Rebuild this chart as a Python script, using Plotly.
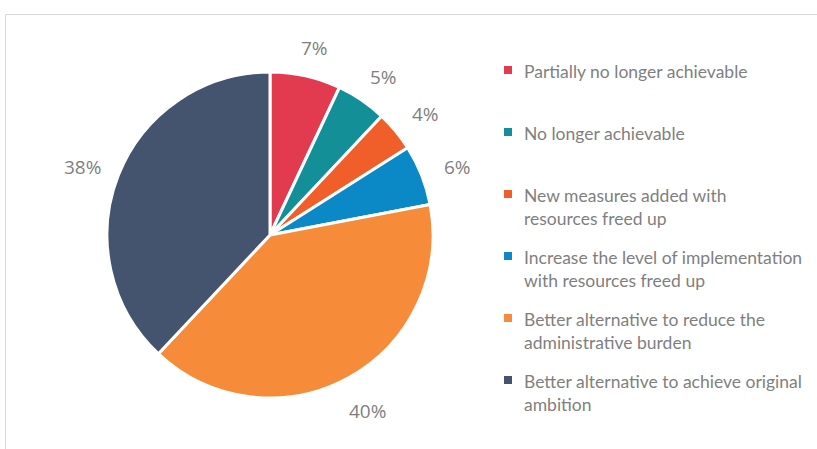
import math
import plotly.graph_objects as go

labels = [
    "Partially no longer achievable",
    "No longer achievable",
    "New measures added with<br>resources freed up",
    "Increase the level of implementation<br>with resources freed up",
    "Better alternative to reduce the<br>administrative burden",
    "Better alternative to achieve original<br>ambition",
]
values = [7, 5, 4, 6, 40, 38]
colors = ["#E23A4E", "#138F98", "#F05F2A", "#0A89C6", "#F68B3A", "#44546F"]

W, H = 817, 449
cx, cy, r = 270, 235, 163

fig = go.Figure()
fig.add_trace(go.Pie(
    labels=labels,
    values=values,
    textinfo="none",
    marker=dict(colors=colors, line=dict(color="white", width=3)),
    sort=False,
    direction="clockwise",
    rotation=0,
    showlegend=False,
    hoverinfo="label+percent",
    domain=dict(x=[(cx - r) / W, (cx + r) / W], y=[(H - cy - r) / H, (H - cy + r) / H]),
))

# outside percentage labels, positioned at each slice's mid-angle
total = sum(values)
cum = 0
d = 196
for v in values:
    mid = (cum + v / 2) / total * 2 * math.pi
    cum += v
    s, c = math.sin(mid), math.cos(mid)
    lx = cx + d * s + 6 * s
    ly = cy - d * c + 4
    fig.add_annotation(xref="paper", yref="paper", x=lx / W, y=(H - ly) / H,
                       xanchor="center", yanchor="middle", showarrow=False,
                       text=f"{round(v / total * 100)}%",
                       font=dict(family="Open Sans", size=19, color="#7F7F7F"))

# border
fig.add_shape(type="rect", xref="paper", yref="paper",
              x0=5.5 / W, x1=1.2, y0=-0.2, y1=(H - 14.5) / H,
              line=dict(color="#D9D9D9", width=1), fillcolor="rgba(0,0,0,0)", layer="below")

# legend
y0, step = 70, 62
for i, (lab, col) in enumerate(zip(labels, colors)):
    yc = y0 + step * i
    fig.add_shape(type="rect", xref="paper", yref="paper",
                  x0=504 / W, x1=512 / W, y0=(H - yc - 4) / H, y1=(H - yc + 4) / H,
                  line=dict(width=0), fillcolor=col)
    fig.add_annotation(xref="paper", yref="paper", x=522 / W, y=(H - yc + 11) / H,
                       xanchor="left", yanchor="top", align="left", showarrow=False,
                       text=lab, font=dict(family="Lato", size=17.5, color="#7F7F7F"))

fig.update_layout(width=W, height=H, margin=dict(l=0, r=0, t=0, b=0),
                  paper_bgcolor="white", plot_bgcolor="white")
fig.write_html("out.html")
